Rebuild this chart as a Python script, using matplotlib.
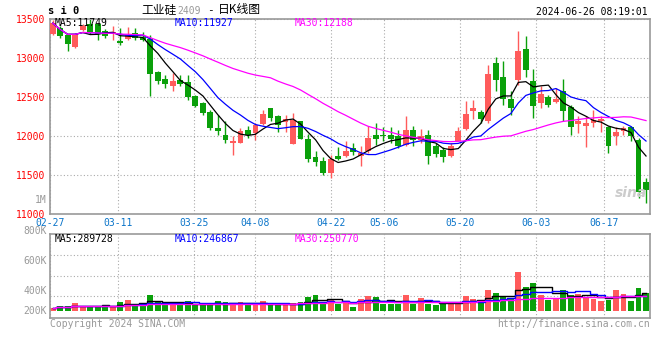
import numpy as np
import pandas as pd
import matplotlib
matplotlib.use('Agg')
import matplotlib.pyplot as plt

plt.rcParams['font.family'] = 'DejaVu Sans Mono'

# daily K data, 02-27 .. 06-25 (80 trading days)
opens = [13300, 13380, 13290, 13130, 13350, 13430, 13430, 13335, 13320, 13215,
         13235, 13310, 13265, 13240, 12815, 12725, 12640, 12715, 12680, 12510,
         12420, 12305, 12100, 12010, 11905, 11910, 12070, 12030, 12150, 12350,
         12245, 12170, 11895, 12180, 11960, 11725, 11675, 11520, 11740, 11735,
         11845, 11740, 11795, 12010, 12010, 12010, 11995, 11880, 12075, 11940,
         12010, 11860, 11815, 11740, 11935, 12080, 12310, 12300, 12180, 12935,
         12755, 12470, 12715, 13110, 12700, 12415, 12490, 12435, 12575, 12360,
         12145, 12125, 12165, 12190, 12110, 12000, 12060, 12115, 11945, 11410]
highs = [13480, 13400, 13300, 13310, 13430, 13500, 13440, 13360, 13400, 13380,
         13390, 13380, 13330, 13290, 12830, 12770, 12800, 12770, 12770, 12520,
         12425, 12330, 12265, 12190, 11990, 12100, 12120, 12160, 12330, 12355,
         12265, 12265, 12290, 12190, 12020, 11795, 11730, 11755, 11850, 11925,
         11910, 11860, 12120, 12160, 12115, 12115, 12075, 12245, 12125, 12080,
         12075, 11910, 11850, 11900, 12110, 12440, 12460, 12330, 12905, 13005,
         12950, 12565, 13340, 13270, 12850, 12640, 12520, 12610, 12725, 12395,
         12255, 12245, 12330, 12255, 12125, 12110, 12125, 12125, 11965, 11460]
lows = [13290, 13250, 13080, 13120, 13340, 13300, 13220, 13245, 13230, 13160,
        13230, 13230, 13210, 12510, 12660, 12615, 12575, 12640, 12460, 12370,
        12265, 12070, 12010, 11900, 11750, 11905, 11965, 11945, 12140, 12185,
        12050, 12050, 11895, 11950, 11655, 11610, 11495, 11460, 11690, 11720,
        11745, 11615, 11770, 11880, 11925, 11900, 11835, 11860, 11870, 11900,
        11635, 11730, 11655, 11730, 11925, 12075, 12210, 12160, 12160, 12575,
        12395, 12265, 12650, 12755, 12225, 12350, 12365, 12415, 12180, 12010,
        12030, 11850, 12115, 12050, 11780, 11880, 12010, 11925, 11195, 11130]
closes = [13440, 13280, 13170, 13300, 13410, 13310, 13295, 13270, 13330, 13190,
          13285, 13250, 13230, 12790, 12705, 12665, 12700, 12665, 12500, 12380,
          12290, 12095, 12060, 11945, 11930, 12060, 12010, 12135, 12280, 12225,
          12140, 12210, 12200, 11955, 11705, 11655, 11515, 11695, 11700, 11800,
          11785, 11775, 11970, 11955, 12000, 11955, 11860, 12075, 11945, 11995,
          11740, 11765, 11725, 11870, 12060, 12275, 12350, 12215, 12790, 12715,
          12465, 12350, 13085, 12835, 12380, 12535, 12395, 12470, 12310, 12115,
          12180, 12160, 12195, 12210, 11860, 12040, 12090, 11990, 11270, 11295]
# volume in thousands of lots
volumes = [54, 82, 82, 130, 70, 82, 82, 98, 70, 147,
           179, 109, 130, 261, 147, 114, 114, 98, 163, 98,
           98, 98, 163, 147, 130, 147, 98, 98, 163, 98,
           98, 98, 130, 147, 228, 261, 147, 196, 114, 130,
           65, 196, 245, 228, 114, 114, 114, 261, 114, 212,
           114, 98, 114, 147, 147, 245, 196, 130, 342, 293,
           245, 196, 641, 391, 456, 261, 179, 196, 342, 261,
           277, 228, 196, 163, 179, 342, 277, 163, 375, 293]

tick_labels = ['02-27', '03-11', '03-25', '04-08', '04-22', '05-06', '05-20', '06-03', '06-17']
tick_index = [0, 9, 19, 27, 37, 44, 54, 64, 73]

df = pd.DataFrame({'open': opens, 'high': highs, 'low': lows, 'close': closes, 'vol': volumes})
x = np.arange(len(df))
up = df['close'] >= df['open']
RED = '#ff5b5b'
GREEN = '#0aa00a'
colors = np.where(up, RED, GREEN)

W, H = 660, 360


def fx(px):
    return px / W


def fy(py):
    return 1 - py / H


fig = plt.figure(figsize=(6.6, 3.6), dpi=100)
ax = fig.add_axes([fx(50), fy(213.5), 600 / W, 195 / H])
axv = fig.add_axes([fx(50), fy(318), 600 / W, 83.7 / H])

x0, x1 = -0.36, 79.53
step = (x1 - x0) / 79
tick_pos = [x0 + step * i for i in tick_index]

for a in (ax, axv):
    a.set_xlim(x0, x1)
    for s in a.spines.values():
        s.set_color('#999999')
        s.set_linewidth(1.2)
    a.set_xticks(tick_pos)
    a.grid(True, color='#aaaaaa', linestyle=(0, (1, 2)), linewidth=0.8)
    a.set_axisbelow(True)

# candles
body = (df['close'] - df['open']).abs().clip(lower=12)
bottom = df[['open', 'close']].min(axis=1)
ax.vlines(x, df['low'], df['high'], color=colors, linewidth=1, zorder=2)
ax.bar(x, body, bottom=bottom, width=0.78, color=colors, linewidth=0, zorder=3)

ma_colors = {5: 'black', 10: '#0000ff', 30: '#ff00ff'}
for n, c in ma_colors.items():
    ax.plot(x, df['close'].rolling(n, min_periods=1).mean(), color=c, linewidth=0.9, zorder=4)

ax.set_ylim(11000, 13500)
ax.set_yticks([11000, 11500, 12000, 12500, 13000, 13500])
ax.set_xticklabels(tick_labels)
ax.tick_params(axis='x', length=0, pad=3, labelsize=7, labelcolor='#0a74c9')
ax.tick_params(axis='y', length=0, pad=3.5, labelsize=7, labelcolor='#ff0000')

ax.text(fx(55), fy(23.5), 'MA5:11749', transform=fig.transFigure, fontsize=7, color='black', va='center')
ax.text(fx(175), fy(23.5), 'MA10:11927', transform=fig.transFigure, fontsize=7, color='#0000ff', va='center')
ax.text(fx(295), fy(23.5), 'MA30:12188', transform=fig.transFigure, fontsize=7, color='#ff00ff', va='center')
ax.text(0.995, 0.07, 'sina', transform=ax.transAxes, ha='right', va='bottom', fontsize=10,
        color='#cccccc', fontstyle='italic', fontweight='bold', family='DejaVu Sans')

# volume
axv.bar(x, df['vol'], width=0.78, color=colors, linewidth=0, zorder=2)
for n, c in ma_colors.items():
    axv.plot(x, df['vol'].rolling(n, min_periods=1).mean(), color=c, linewidth=1,
             drawstyle='steps-mid', zorder=3)
axv.set_ylim(-114, 1250)
axv.set_yticks([250, 575, 913])
axv.set_yticklabels([])
axv.set_xticklabels([])
axv.tick_params(length=0)

fig.text(fx(55), fy(239), 'MA5:289728', fontsize=7, color='black', va='center')
fig.text(fx(175), fy(239), 'MA10:246867', fontsize=7, color='#0000ff', va='center')
fig.text(fx(295), fy(239), 'MA30:250770', fontsize=7, color='#ff00ff', va='center')
for lab, py in [('800K', 230.7), ('600K', 260.7), ('400K', 291), ('200K', 311)]:
    fig.text(fx(46.5), fy(py), lab, fontsize=7, color='#999999', ha='right', va='center')
fig.text(fx(46.5), fy(200), '1M', fontsize=7, color='#999999', ha='right', va='center')

# header and footer
fig.text(fx(48), fy(10.5), 's i 0', fontsize=7.5, fontweight='bold', va='center')
cjk = ['Noto Sans CJK SC', 'DejaVu Sans']
fig.text(fx(141), fy(10), '工业硅', fontsize=8.5, family=cjk, va='center')
fig.text(fx(177), fy(10.5), '2409', fontsize=7, color='#999999', va='center')
fig.text(fx(207), fy(10), '-', fontsize=8, va='center')
fig.text(fx(218), fy(10), '日K线图', fontsize=8.5, family=cjk, va='center')
fig.text(fx(648), fy(12), '2024-06-26 08:19:01', fontsize=7, ha='right', va='center')
fig.text(fx(50), fy(324), 'Copyright 2024 SINA.COM', fontsize=7, color='#999999', va='center')
fig.text(fx(650), fy(324), 'http://finance.sina.com.cn', fontsize=7, color='#999999', ha='right', va='center')

fig.savefig('out.png', dpi=100, facecolor='white')
